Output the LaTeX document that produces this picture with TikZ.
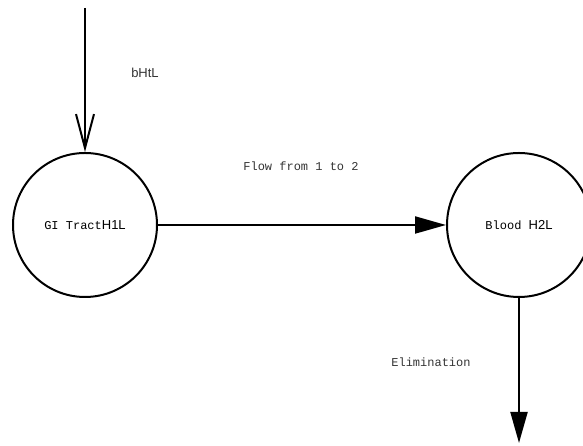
\documentclass[tikz,border=0pt]{standalone}
\usepackage{fontspec}
\usetikzlibrary{arrows.meta,positioning}
\newfontfamily\labelfont{Liberation Mono}
\newfontfamily\parenfont{Liberation Sans}
\tikzset{
  compartment/.style={draw, circle, line width=2pt, minimum size=144pt, inner sep=0pt, font=\labelfont\fontsize{12}{14}\selectfont},
  note/.style={font=\labelfont\fontsize{12}{14}\selectfont, text=black!80},
  dose/.style={-{Straight Barb[length=34pt,width=18pt,line width=2pt]}, line width=2pt},
  flow/.style={-{Triangle[length=31pt,width=17pt]}, line width=2pt},
}
\newcommand{\paren}[1]{{\parenfont\fontsize{13}{15}\selectfont #1}}

\begin{document}
\begin{tikzpicture}[x=1pt, y=1pt]
    \useasboundingbox (0,0) rectangle (583,446);

    \node[compartment] (gi) at (85,221) {GI Tract\paren{H1L}};
    \node[compartment] (blood) at (519,221) {Blood \paren{H2L}};

    \coordinate (intake) at (85,438);
    \coordinate (out) at (519,3);

    \draw[dose] (intake) -- (gi.north);
    \draw[flow] (gi) -- (blood);
    \draw[flow] (blood) -- (out);

    \node[note] (inlabel) at (145,373) {\paren{bHtL}};
    \node[note] (flowlabel) at (301,280) {Flow from 1 to 2};
    \node[note] (elimlabel) at (431,84) {Elimination};
  \end{tikzpicture}
\end{document}
